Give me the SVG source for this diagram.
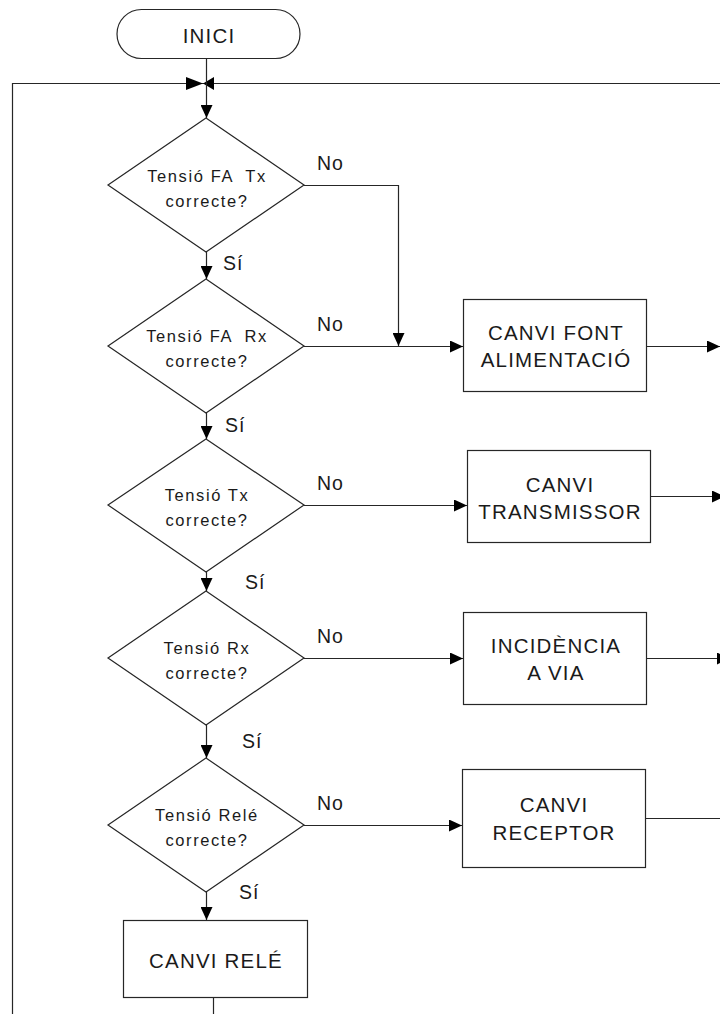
<svg xmlns="http://www.w3.org/2000/svg" width="720" height="1014" viewBox="0 0 720 1014">
  <style>
    .shape { fill: #ffffff; stroke: #262626; stroke-width: 1.2; }
    .wire { fill: none; stroke: #262626; stroke-width: 1.2; }
    .head { fill: #000000; stroke: none; }
    .box { font-family: "Liberation Sans", Arial, sans-serif; font-size: 20.5px; letter-spacing: 1.2px; fill: #1a1a1a; text-anchor: middle; }
    .cond { font-family: "Liberation Sans", Arial, sans-serif; font-size: 16.5px; letter-spacing: 1.6px; fill: #1a1a1a; text-anchor: middle; white-space: pre; }
    .lbl { font-family: "Liberation Sans", Arial, sans-serif; font-size: 19.5px; letter-spacing: 1px; fill: #1a1a1a; }
  </style>
  <defs>
    <marker id="arrow" viewBox="0 0 13 12" refX="13" refY="6" markerWidth="13" markerHeight="12" markerUnits="userSpaceOnUse" orient="auto">
      <path d="M0,0 L13,6 L0,12 Z" fill="#000"/>
    </marker>
  </defs>

  <rect width="720" height="1014" fill="#ffffff"/>

  <!-- connectors -->
  <g id="connectors">
    <!-- return loop -->
    <polyline class="wire" points="720,83.5 12.5,83.5 12.5,1014"/>
    <line class="wire" x1="213.5" y1="997" x2="213.5" y2="1014"/>
    <!-- junction bow-tie -->
    <polygon class="head" points="186,77 186,90 203,83.5"/>
    <polygon class="head" points="214,77 214,90 203,83.5"/>
    <!-- main column -->
    <line class="wire" x1="206.5" y1="59" x2="206.5" y2="118" marker-end="url(#arrow)"/>
    <line class="wire" x1="206.5" y1="252" x2="206.5" y2="279" marker-end="url(#arrow)"/>
    <line class="wire" x1="206.5" y1="413" x2="206.5" y2="439" marker-end="url(#arrow)"/>
    <line class="wire" x1="206.5" y1="572" x2="206.5" y2="591" marker-end="url(#arrow)"/>
    <line class="wire" x1="206.5" y1="725" x2="206.5" y2="758" marker-end="url(#arrow)"/>
    <line class="wire" x1="206.5" y1="892" x2="206.5" y2="920" marker-end="url(#arrow)"/>
    <!-- "No" branches -->
    <polyline class="wire" points="304,185.5 398.5,185.5 398.5,346" marker-end="url(#arrow)"/>
    <line class="wire" x1="304" y1="346.5" x2="463" y2="346.5" marker-end="url(#arrow)"/>
    <line class="wire" x1="304" y1="505.5" x2="467" y2="505.5" marker-end="url(#arrow)"/>
    <line class="wire" x1="304" y1="658.5" x2="463" y2="658.5" marker-end="url(#arrow)"/>
    <line class="wire" x1="304" y1="825.5" x2="462" y2="825.5" marker-end="url(#arrow)"/>
    <!-- outputs back to the loop -->
    <line class="wire" x1="647" y1="346.5" x2="720" y2="346.5" marker-end="url(#arrow)"/>
    <line class="wire" x1="651" y1="496.5" x2="725" y2="496.5" marker-end="url(#arrow)"/>
    <line class="wire" x1="647" y1="658.5" x2="730" y2="658.5" marker-end="url(#arrow)"/>
    <line class="wire" x1="645" y1="818.5" x2="720" y2="818.5"/>
  </g>

  <!-- start -->
  <g id="inici">
    <rect class="shape" x="117" y="9.5" width="183" height="49" rx="24.5"/>
    <text class="box" x="209" y="43">INICI</text>
  </g>

  <!-- decisions -->
  <g id="q-fa-tx">
    <polygon class="shape" points="206,118 304,185 206,252 108,185"/>
    <text class="cond" x="207" y="182" xml:space="preserve">Tensió FA  Tx</text>
    <text class="cond" x="207" y="207">correcte?</text>
    <text class="lbl" x="317" y="170">No</text>
    <text class="lbl" x="223" y="270">Sí</text>
  </g>
  <g id="q-fa-rx">
    <polygon class="shape" points="206,279 304,346 206,413 108,346"/>
    <text class="cond" x="207" y="342" xml:space="preserve">Tensió FA  Rx</text>
    <text class="cond" x="207" y="367">correcte?</text>
    <text class="lbl" x="317" y="331">No</text>
    <text class="lbl" x="225" y="432">Sí</text>
  </g>
  <g id="q-tx">
    <polygon class="shape" points="206,439 304,505 206,572 108,505"/>
    <text class="cond" x="207" y="501">Tensió Tx</text>
    <text class="cond" x="207" y="526">correcte?</text>
    <text class="lbl" x="317" y="490">No</text>
    <text class="lbl" x="245" y="589">Sí</text>
  </g>
  <g id="q-rx">
    <polygon class="shape" points="206,591 304,658 206,725 108,658"/>
    <text class="cond" x="207" y="654">Tensió Rx</text>
    <text class="cond" x="207" y="679">correcte?</text>
    <text class="lbl" x="317" y="643">No</text>
    <text class="lbl" x="242" y="748">Sí</text>
  </g>
  <g id="q-rele">
    <polygon class="shape" points="206,758 304,825 206,892 108,825"/>
    <text class="cond" x="207" y="821">Tensió Relé</text>
    <text class="cond" x="207" y="846">correcte?</text>
    <text class="lbl" x="317" y="810">No</text>
    <text class="lbl" x="239" y="899">Sí</text>
  </g>

  <!-- actions -->
  <g id="canvi-font">
    <rect class="shape" x="463.5" y="299.5" width="183" height="92"/>
    <text class="box" x="556" y="340">CANVI FONT</text>
    <text class="box" x="556" y="367">ALIMENTACIÓ</text>
  </g>
  <g id="canvi-tx">
    <rect class="shape" x="467.5" y="450.5" width="183" height="92"/>
    <text class="box" x="560" y="492">CANVI</text>
    <text class="box" x="560" y="519">TRANSMISSOR</text>
  </g>
  <g id="incidencia">
    <rect class="shape" x="463.5" y="612.5" width="183" height="92"/>
    <text class="box" x="556" y="653">INCIDÈNCIA</text>
    <text class="box" x="556" y="680">A VIA</text>
  </g>
  <g id="canvi-rx">
    <rect class="shape" x="462.5" y="769.5" width="183" height="98"/>
    <text class="box" x="554" y="812">CANVI</text>
    <text class="box" x="554" y="840">RECEPTOR</text>
  </g>
  <g id="canvi-rele">
    <rect class="shape" x="123.5" y="920.5" width="184" height="77"/>
    <text class="box" x="216" y="968">CANVI RELÉ</text>
  </g>
</svg>
